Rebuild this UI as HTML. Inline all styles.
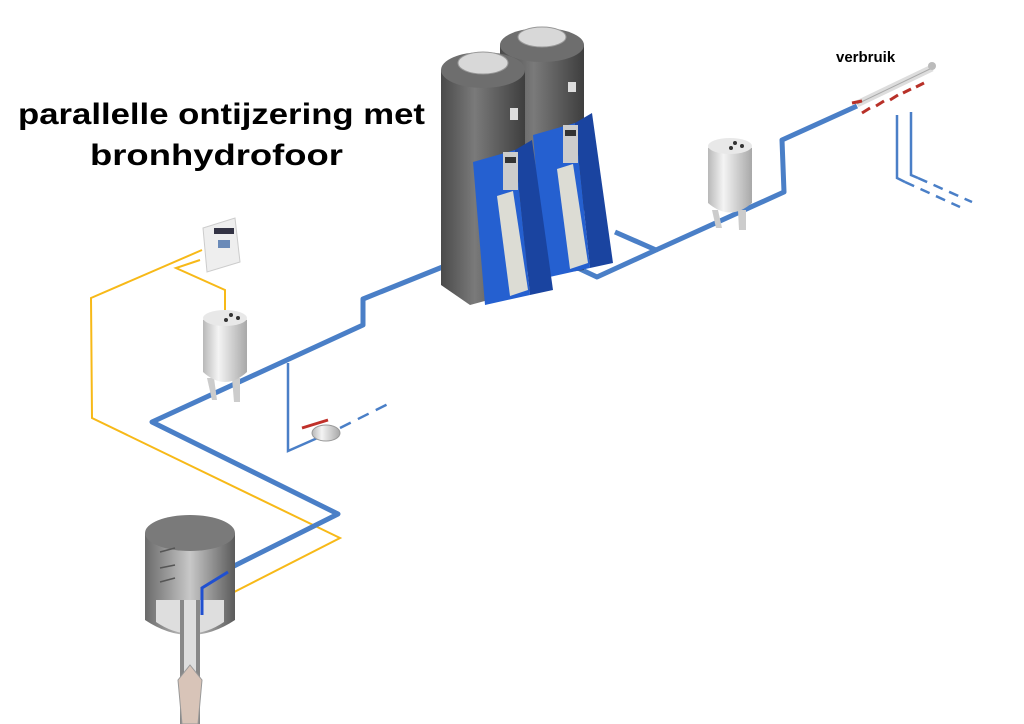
<!DOCTYPE html>
<html><head><meta charset="utf-8"><style>
html,body{margin:0;padding:0;background:#fff;}
svg{display:block;}
</style></head><body>
<svg width="1024" height="724" viewBox="0 0 1024 724" xmlns="http://www.w3.org/2000/svg" font-family="Liberation Sans, sans-serif">
<defs>
<linearGradient id="steel" x1="0" x2="1"><stop offset="0" stop-color="#b8b8b8"/><stop offset="0.35" stop-color="#f4f4f4"/><stop offset="1" stop-color="#a8a8a8"/></linearGradient>
<linearGradient id="dark" x1="0" x2="1"><stop offset="0" stop-color="#4a4a4a"/><stop offset="0.4" stop-color="#7a7a7a"/><stop offset="1" stop-color="#3e3e3e"/></linearGradient>
<linearGradient id="well" x1="0" x2="1"><stop offset="0" stop-color="#6a6a6a"/><stop offset="0.5" stop-color="#c8c8c8"/><stop offset="1" stop-color="#5a5a5a"/></linearGradient>
</defs>

<text x="18" y="124" font-size="30" font-weight="bold" textLength="407" lengthAdjust="spacingAndGlyphs">parallelle  ontijzering met</text>
<text x="90" y="165" font-size="30" font-weight="bold" textLength="253" lengthAdjust="spacingAndGlyphs">bronhydrofoor</text>
<text x="836" y="62" font-size="15" font-weight="bold">verbruik</text>

<!-- yellow cables -->
<g fill="none" stroke="#f7b918" stroke-width="2">
<polyline points="202,250 91,298 92,418 340,538 195,612"/>
<polyline points="200,260 176,268 225,290 225,318"/>
</g>

<!-- blue pipes -->
<g fill="none" stroke="#4a7fc7" stroke-width="5" stroke-linejoin="round">
<polyline points="230,568 338,514 152,422 363,325 363,299 445,266"/>
<polyline points="565,262 597,277 656,250 615,232"/>
<polyline points="656,250 784,192 782,140 857,106"/>
</g>
<g fill="none" stroke="#4a7fc7" stroke-width="2.5">
<polyline points="288,363 288,451 322,436"/>
<line x1="340" y1="428" x2="392" y2="402" stroke-dasharray="12,8"/>
<polyline points="897,115 897,178 905,182"/>
<polyline points="911,112 911,175 918,178"/>
<line x1="905" y1="182" x2="960" y2="207" stroke-dasharray="10,7"/>
<line x1="918" y1="178" x2="972" y2="202" stroke-dasharray="10,7"/>
</g>

<!-- valve -->
<ellipse cx="326" cy="433" rx="14" ry="8" fill="url(#steel)" stroke="#999"/>
<line x1="302" y1="428" x2="328" y2="420" stroke="#c0302a" stroke-width="3"/>

<!-- manifold -->
<line x1="857" y1="104" x2="932" y2="68" stroke="#ddd" stroke-width="7"/>
<line x1="857" y1="104" x2="932" y2="68" stroke="#aaa" stroke-width="1"/>
<circle cx="932" cy="66" r="4" fill="#bbb"/>
<g stroke="#b83028" stroke-width="3">
<line x1="852" y1="103" x2="862" y2="101"/>
<line x1="862" y1="113" x2="870" y2="108"/>
<line x1="876" y1="106" x2="884" y2="101"/>
<line x1="890" y1="100" x2="898" y2="95"/>
<line x1="903" y1="93" x2="911" y2="89"/>
<line x1="916" y1="87" x2="924" y2="83"/>
</g>

<!-- control box -->
<polygon points="203,228 235,218 240,262 207,272" fill="#eeeeee" stroke="#ccc"/>
<rect x="214" y="228" width="20" height="6" fill="#334"/>
<rect x="218" y="240" width="12" height="8" fill="#6a8ab8"/>

<!-- pressure tank left -->
<g>
<polygon points="207,378 212,400 217,400 214,378" fill="#ccc"/>
<polygon points="232,378 234,402 240,402 240,378" fill="#ccc"/>
<path d="M203,320 Q225,305 247,320 L247,372 Q225,392 203,372 Z" fill="url(#steel)"/>
<ellipse cx="225" cy="318" rx="22" ry="8" fill="#e8e8e8"/>
<circle cx="231" cy="315" r="2" fill="#333"/><circle cx="238" cy="318" r="2" fill="#333"/><circle cx="226" cy="320" r="2" fill="#333"/>
</g>

<!-- pressure tank right -->
<g>
<polygon points="712,210 716,228 722,228 718,210" fill="#ccc"/>
<polygon points="738,210 739,230 746,230 746,210" fill="#ccc"/>
<path d="M708,148 Q730,133 752,148 L752,203 Q730,222 708,203 Z" fill="url(#steel)"/>
<ellipse cx="730" cy="146" rx="22" ry="8" fill="#e8e8e8"/>
<circle cx="735" cy="143" r="2" fill="#333"/><circle cx="742" cy="146" r="2" fill="#333"/><circle cx="731" cy="148" r="2" fill="#333"/>
</g>

<!-- softener B (back) -->
<g>
<path d="M500,45 Q542,25 584,45 L584,270 L540,276 L500,260 Z" fill="url(#dark)"/>
<ellipse cx="542" cy="45" rx="42" ry="17" fill="#6e6e6e"/>
<ellipse cx="542" cy="37" rx="24" ry="10" fill="#d8d8d8" stroke="#999"/>
<rect x="568" y="82" width="8" height="10" fill="#ddd"/>
<g transform="translate(60,-27)">
<polygon points="473,162 515,150 530,295 485,305" fill="#2560d0"/>
<polygon points="515,150 532,140 553,290 530,295" fill="#1a44a0"/>
<polygon points="497,196 513,191 528,290 510,296" fill="#dcdcd4"/>
<rect x="503" y="152" width="15" height="38" fill="#ccc"/>
<rect x="505" y="157" width="11" height="6" fill="#333"/>
</g>
</g>

<!-- softener A (front) -->
<g>
<path d="M441,70 Q483,48 525,70 L525,290 L470,305 L441,285 Z" fill="url(#dark)"/>
<ellipse cx="483" cy="70" rx="42" ry="18" fill="#6e6e6e"/>
<ellipse cx="483" cy="63" rx="25" ry="11" fill="#d8d8d8" stroke="#999"/>
<rect x="510" y="108" width="8" height="12" fill="#ddd"/>
<polygon points="473,162 515,150 530,295 485,305" fill="#2560d0"/>
<polygon points="515,150 532,140 553,290 530,295" fill="#1a44a0"/>
<polygon points="497,196 513,191 528,290 510,296" fill="#dcdcd4"/>
<rect x="503" y="152" width="15" height="38" fill="#ccc"/>
<rect x="505" y="157" width="11" height="6" fill="#333"/>
</g>

<!-- well tank -->
<g>
<path d="M145,533 L145,620 Q190,650 235,620 L235,533 Z" fill="url(#well)"/>
<path d="M156,600 L156,622 Q190,645 224,622 L224,600 Z" fill="#dedede"/>
<ellipse cx="190" cy="533" rx="45" ry="18" fill="#7a7a7a"/>
<rect x="180" y="600" width="20" height="124" fill="#888"/>
<rect x="184" y="600" width="12" height="124" fill="#ddd"/>
<polygon points="178,680 190,665 202,680 198,724 182,724" fill="#d8c4b8" stroke="#999"/>
<polyline points="202,615 202,588 228,572" fill="none" stroke="#2050d0" stroke-width="3"/>
<g stroke="#555" stroke-width="1.5" fill="none">
<polyline points="160,552 175,548"/><polyline points="160,568 175,565"/><polyline points="160,582 175,578"/>
</g>
</g>
</svg>
</body></html>
